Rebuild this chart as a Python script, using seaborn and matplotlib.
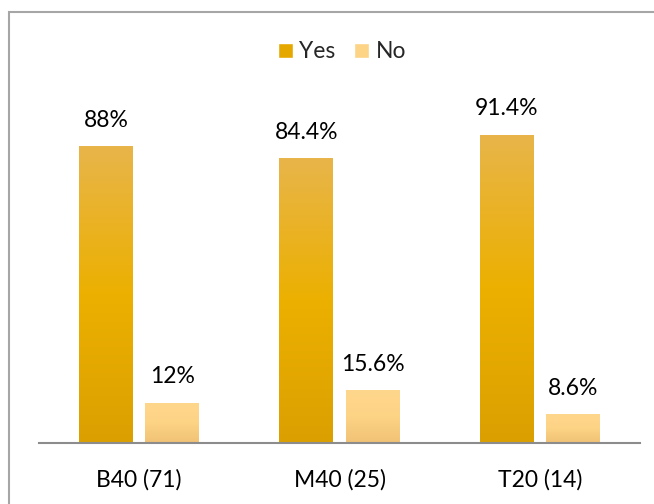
import numpy as np
import pandas as pd
import matplotlib
matplotlib.use("Agg")
import matplotlib.pyplot as plt
import seaborn as sns
from matplotlib.patches import Rectangle
from matplotlib.colors import LinearSegmentedColormap

categories = ["B40 (71)", "M40 (25)", "T20 (14)"]
series = ["Yes", "No"]
yes_values = [88.0, 84.4, 91.4]
no_values = [12.0, 15.6, 8.6]
value_labels_yes = ["88%", "84.4%", "91.4%"]
value_labels_no = ["12%", "15.6%", "8.6%"]

df = pd.DataFrame({
    "group": categories * 2,
    "answer": ["Yes"] * 3 + ["No"] * 3,
    "value": yes_values + no_values,
    "label": value_labels_yes + value_labels_no,
})

sns.set_theme(style="white")
plt.rcParams["font.family"] = ["Lato", "DejaVu Sans"]

FS = 16.5
W, H = 654, 504
fig = plt.figure(figsize=(W / 100, H / 100), dpi=100)
ax_left, ax_right = 39, 640
ax_bottom, ax_top = 443, 95
ax = fig.add_axes([ax_left / W, 1 - ax_bottom / H, (ax_right - ax_left) / W, (ax_bottom - ax_top) / H])

palette = {"Yes": "#E9AE10", "No": "#FDD386"}
sns.barplot(data=df, x="group", y="value", hue="answer", hue_order=series,
            palette=palette, width=0.665, gap=0.19, ax=ax, legend=False, saturation=1)

ymax = (ax_bottom - ax_top) / 3.375
ax.set_ylim(0, ymax)
ax.set_xlim(-0.5, 2.5)

grad = {
    "Yes": LinearSegmentedColormap.from_list("y", ["#DBA000", "#ECB000", "#E8B54A"]),
    "No": LinearSegmentedColormap.from_list("n", ["#F0C275", "#FDD386", "#FFD78C"]),
}
col = np.linspace(0, 1, 256).reshape(-1, 1)
for i, p in enumerate(ax.patches):
    ans = "Yes" if i < 3 else "No"
    x0, y0 = p.get_x(), p.get_y()
    w, h = p.get_width(), p.get_height()
    if h <= 0:
        continue
    im = ax.imshow(col, cmap=grad[ans], aspect="auto", origin="lower",
                   extent=[x0, x0 + w, y0, y0 + h], zorder=p.get_zorder() + 0.1)
    im.set_clip_path(p)
    lab = df.loc[(df["answer"] == ans)]["label"].tolist()[i % 3]
    ax.annotate(lab, xy=(x0 + w / 2, y0 + h), xytext=(0, 13.7), textcoords="offset points",
                ha="center", va="baseline", fontsize=FS, color="#000000")

ax.set_xlim(-0.5, 2.5)
ax.set_ylim(0, ymax)
ax.set_xlabel("")
ax.set_ylabel("")
ax.set_yticks([])
for s in ["top", "right", "left"]:
    ax.spines[s].set_visible(False)
ax.spines["bottom"].set_color("#8C8C8C")
ax.spines["bottom"].set_linewidth(1.5)
ax.tick_params(axis="x", length=0, pad=19, labelsize=FS, labelcolor="#000000")

# legend
handles = [Rectangle((0, 0), 1, 1, facecolor="#E5A800"), Rectangle((0, 0), 1, 1, facecolor="#FDD386")]
fig.legend(handles, series, loc="center", bbox_to_anchor=(342 / W, 1 - 52 / H), ncol=2,
           frameon=False, fontsize=FS, handlelength=0.65, handleheight=0.65,
           handletextpad=0.3, columnspacing=0.8)

# outer frame
fig.patches.append(Rectangle((9 / W, -0.1), 1.2, 1 - 12 / H + 0.1, transform=fig.transFigure,
                             fill=False, edgecolor="#A6A6A6", linewidth=1.5))

fig.savefig("out.png", dpi=100)
